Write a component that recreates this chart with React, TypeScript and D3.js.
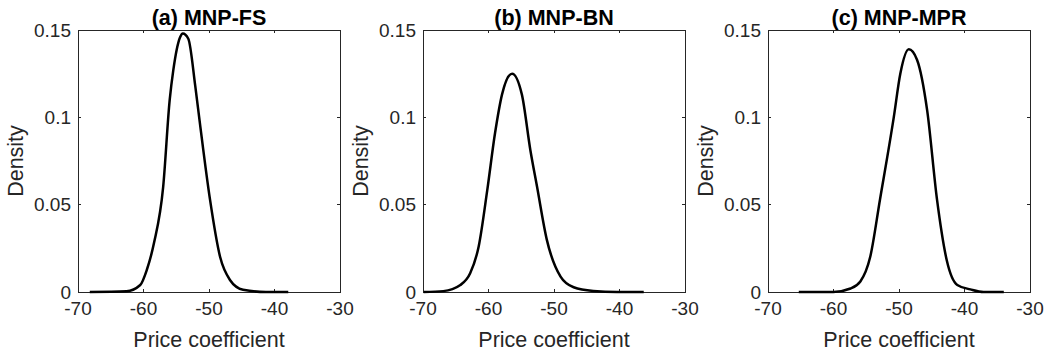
import React, { useEffect, useRef } from "react";
import * as d3 from "d3";

// panel titles
const titles = ["(a) MNP-FS", "(b) MNP-BN", "(c) MNP-MPR"];

// density curves (price coefficient, density)
const fsX = [-68.2, -62.6, -60.5, -59.5, -58.4, -57.0, -56.0, -55.45, -54.4, -54.0, -53.16, -52.1, -51.4, -49.85, -48.3, -46.8, -44.8, -41.3, -37.9];
const fsY = [0, 0.0004, 0.004, 0.0126, 0.028, 0.06, 0.11, 0.127, 0.146, 0.148, 0.145, 0.118, 0.097, 0.053, 0.02, 0.0069, 0.0013, 0, 0];

const bnX = [-69.9, -66.9, -64.3, -62.8, -61.5, -60.2, -59.0, -57.94, -56.4, -54.9, -53.6, -52.6, -51.1, -49.0, -47.0, -44.0, -40.4, -36.3];
const bnY = [0, 0.0005, 0.004, 0.0107, 0.026, 0.058, 0.091, 0.113, 0.125, 0.113, 0.081, 0.0605, 0.03, 0.0088, 0.0027, 0.0006, 0, 0];

const mprX = [-65.3, -60.0, -57.4, -55.9, -54.4, -52.9, -50.8, -49.8, -48.5, -47.25, -45.7, -44.2, -42.7, -41.1, -39.1, -37.1, -34.0];
const mprY = [0, 0, 0.002, 0.006, 0.02, 0.053, 0.1, 0.125, 0.139, 0.133, 0.104, 0.053, 0.018, 0.004, 0.0015, 0, 0];

const xTicks = [-70, -60, -50, -40, -30];
const yTicks = [0, 0.05, 0.1, 0.15];

const series = [
    { xs: fsX, ys: fsY },
    { xs: bnX, ys: bnY },
    { xs: mprX, ys: mprY },
];

export default function App() {
    const ref = useRef<SVGSVGElement>(null);

    useEffect(() => {
        const width = 1049, height = 354;
        const lefts = [78, 423, 768];
        const pw = 262, top = 30, bottom = 292;
        const axisColor = "#262626";
        const font = "Arial, 'Liberation Sans', Helvetica, sans-serif";
        const tick = 3;

        const svg = d3.select(ref.current);
        svg.selectAll("*").remove();
        svg.attr("width", width).attr("height", height);

        series.forEach((s, i) => {
            const left = lefts[i];
            const x = d3.scaleLinear().domain([-70, -30]).range([left, left + pw]);
            const y = d3.scaleLinear().domain([0, 0.15]).range([bottom, top]);
            const g = svg.append("g");

            // box
            g.append("rect")
                .attr("x", left).attr("y", top)
                .attr("width", pw).attr("height", bottom - top)
                .attr("fill", "none")
                .attr("stroke", axisColor)
                .attr("stroke-width", 1)
                .attr("shape-rendering", "crispEdges");

            // inward ticks on all four sides
            xTicks.forEach(t => {
                g.append("line").attr("x1", x(t)).attr("x2", x(t)).attr("y1", bottom).attr("y2", bottom - tick)
                    .attr("stroke", axisColor).attr("shape-rendering", "crispEdges");
                g.append("line").attr("x1", x(t)).attr("x2", x(t)).attr("y1", top).attr("y2", top + tick)
                    .attr("stroke", axisColor).attr("shape-rendering", "crispEdges");
                g.append("text")
                    .attr("x", x(t)).attr("y", 315)
                    .attr("text-anchor", "middle")
                    .attr("font-family", font).attr("font-size", 19)
                    .attr("fill", axisColor)
                    .text(String(t));
            });
            yTicks.forEach(t => {
                g.append("line").attr("x1", left).attr("x2", left + tick).attr("y1", y(t)).attr("y2", y(t))
                    .attr("stroke", axisColor).attr("shape-rendering", "crispEdges");
                g.append("line").attr("x1", left + pw).attr("x2", left + pw - tick).attr("y1", y(t)).attr("y2", y(t))
                    .attr("stroke", axisColor).attr("shape-rendering", "crispEdges");
                g.append("text")
                    .attr("x", left - 7).attr("y", y(t))
                    .attr("dy", "0.35em")
                    .attr("text-anchor", "end")
                    .attr("font-family", font).attr("font-size", 19)
                    .attr("fill", axisColor)
                    .text(String(t));
            });

            // labels and title
            g.append("text")
                .attr("x", left + pw / 2).attr("y", 347)
                .attr("text-anchor", "middle")
                .attr("font-family", font).attr("font-size", 21.5)
                .attr("fill", axisColor)
                .text("Price coefficient");
            g.append("text")
                .attr("transform", `translate(${left - 55.5},${(top + bottom) / 2}) rotate(-90)`)
                .attr("text-anchor", "middle")
                .attr("font-family", font).attr("font-size", 21.5)
                .attr("fill", axisColor)
                .text("Density");
            g.append("text")
                .attr("x", left + pw / 2).attr("y", 25)
                .attr("text-anchor", "middle")
                .attr("font-family", font).attr("font-size", 21.5)
                .attr("font-weight", "bold")
                .attr("fill", "#000")
                .text(titles[i]);

            // density curve
            const pts = s.xs.map((v, j) => [v, s.ys[j]] as [number, number]);
            const line = d3.line<[number, number]>()
                .x(d => x(d[0]))
                .y(d => y(d[1]))
                .curve(d3.curveMonotoneX);
            g.append("path")
                .attr("d", line(pts))
                .attr("fill", "none")
                .attr("stroke", "#000")
                .attr("stroke-width", 2.5)
                .attr("stroke-linejoin", "round");
        });
    }, []);

    return (
        <div style={{ position: "absolute", left: 0, top: 0 }}>
            <svg ref={ref} style={{ display: "block" }}></svg>
        </div>
    );
}
